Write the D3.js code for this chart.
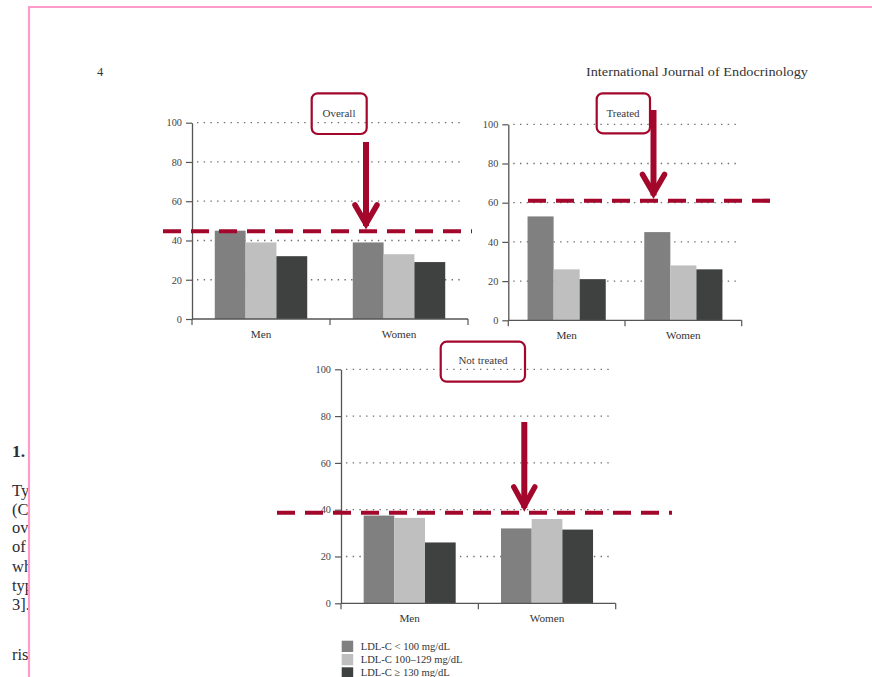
<!DOCTYPE html>
<html>
<head>
<meta charset="utf-8">
<script src="https://cdn.jsdelivr.net/npm/d3@7"></script>
<style>
  html, body { margin: 0; padding: 0; background: #fff; }
  svg { display: block; }
  text { font-family: "Liberation Serif", "DejaVu Serif", serif; }
</style>
</head>
<body>
<svg id="page" width="872" height="677"></svg>
<script>
// ---- data ----
const categories = ["Men", "Women"];
const seriesNames = ["LDL-C < 100 mg/dL", "LDL-C 100\u2013129 mg/dL", "LDL-C \u2265 130 mg/dL"];
const seriesColors = ["#808080", "#bfbfbf", "#3f4141"];
const yTicks = [0, 20, 40, 60, 80, 100];
const panelTitles = ["Overall", "Treated", "Not treated"];
// percent of patients per LDL-C class, rows = categories, columns = series
const overallValues = [[45, 39, 32], [39, 33, 29]];
const treatedValues = [[53, 26, 21], [45, 28, 26]];
const notTreatedValues = [[37.5, 36.5, 26], [32, 36, 31.5]];
// reference level highlighted by the dashed line in each panel
const targetLevels = [44.7, 61, 38.7];

// ---- layout ----
const RED = "#a3072b";
const panels = [
  { title: panelTitles[0], values: overallValues, target: targetLevels[0],
    x0: 192, x1: 468, y0: 319, y1: 122.7,
    dash: [163, 472], box: [311.7, 93.3, 55, 40.7], label: [339, 116.5],
    arrow: { x: 366, top: 142, tip: 230, hw: 13, hh: 25 } },
  { title: panelTitles[1], values: treatedValues, target: targetLevels[1],
    x0: 508.3, x1: 741.7, y0: 320.3, y1: 124.3,
    dash: [528, 773], box: [596.7, 93.3, 53.3, 40], label: [623, 116.5],
    arrow: { x: 653.5, top: 110, tip: 199.5, hw: 13, hh: 25 } },
  { title: panelTitles[2], values: notTreatedValues, target: targetLevels[2],
    x0: 341, x1: 615.7, y0: 603.3, y1: 369.3,
    dash: [277, 672], box: [440.7, 341.7, 84.3, 40], label: [483, 364],
    arrow: { x: 524.3, top: 422, tip: 512, hw: 12.5, hh: 25 } }
];

const svg = d3.select("#page");

// ---- page furniture ----
svg.append("text").attr("x", 97).attr("y", 76).attr("font-size", 12.5).attr("fill", "#333")
  .text("4");
svg.append("text").attr("x", 808).attr("y", 76).attr("font-size", 12.5).attr("fill", "#333")
  .attr("text-anchor", "end").attr("textLength", 222).attr("lengthAdjust", "spacingAndGlyphs")
  .text("International Journal of Endocrinology");

// body text running in from the left margin, cut by the frame
const defs = svg.append("defs");
defs.append("clipPath").attr("id", "leftClip")
  .append("rect").attr("x", 0).attr("y", 0).attr("width", 28.5).attr("height", 677);
const bodyText = svg.append("g").attr("clip-path", "url(#leftClip)").attr("fill", "#2c2c34");
bodyText.append("text").attr("x", 12).attr("y", 457).attr("font-size", 17.5)
  .attr("font-weight", "bold").text("1.");
const bodyLines = ["Type", "(CVD", "over", "of th", "whic", "type", "3]. T", "risk"];
const bodyBaselines = [496, 514.5, 533, 552, 571.5, 591, 610, 660];
bodyLines.forEach((t, i) => {
  bodyText.append("text").attr("x", 12).attr("y", bodyBaselines[i]).attr("font-size", 16.5).text(t);
});

// ---- panels ----
panels.forEach(p => {
  const g = svg.append("g");
  const y = d3.scaleLinear().domain([0, 100]).range([p.y0, p.y1]);
  const x = d3.scaleBand().domain(categories).range([p.x0, p.x1]).padding(0);
  const bw = x.bandwidth();
  const pad = bw * 0.165;
  const xs = d3.scaleBand().domain(d3.range(seriesNames.length)).range([pad, bw - pad]).padding(0);

  // dotted gridlines
  g.append("g").selectAll("line").data(yTicks.filter(d => d > 0)).join("line")
    .attr("x1", p.x0 + 5).attr("x2", p.x1 - 4)
    .attr("y1", d => y(d)).attr("y2", d => y(d))
    .attr("stroke", "#6e6e6e").attr("stroke-width", 1.3)
    .attr("stroke-dasharray", "1.4,5.3");

  // bars
  const groups = g.append("g").selectAll("g").data(categories).join("g")
    .attr("transform", c => `translate(${x(c)},0)`);
  groups.selectAll("rect").data((c, i) => p.values[i].map((v, s) => ({ v, s }))).join("rect")
    .attr("x", d => xs(d.s)).attr("width", xs.bandwidth())
    .attr("y", d => y(d.v)).attr("height", d => y(0) - y(d.v))
    .attr("fill", d => seriesColors[d.s]);

  // y axis
  const yAxis = g.append("g").attr("transform", `translate(${p.x0},0)`)
    .call(d3.axisLeft(y).tickValues(yTicks).tickSize(6).tickSizeOuter(0).tickPadding(4));
  yAxis.select(".domain").attr("stroke", "#555").attr("stroke-width", 1.3);
  yAxis.selectAll(".tick line").attr("stroke", "#555").attr("stroke-width", 1.2);
  yAxis.selectAll(".tick text").attr("font-family", "Liberation Serif, serif")
    .attr("font-size", 10.3).attr("fill", "#444");

  // x axis: baseline, ticks at band edges, labels at band centres
  const xAxis = g.append("g");
  xAxis.append("line").attr("x1", p.x0).attr("x2", p.x1).attr("y1", y(0)).attr("y2", y(0))
    .attr("stroke", "#555").attr("stroke-width", 1.3);
  const edges = categories.map(c => x(c)).concat([x(categories[categories.length - 1]) + bw]);
  xAxis.selectAll("line.edge").data(edges).join("line").attr("class", "edge")
    .attr("x1", d => d).attr("x2", d => d).attr("y1", y(0)).attr("y2", y(0) + 6)
    .attr("stroke", "#555").attr("stroke-width", 1.2);
  xAxis.selectAll("text").data(categories).join("text")
    .attr("x", c => x(c) + bw / 2).attr("y", y(0) + 19)
    .attr("text-anchor", "middle").attr("font-size", 11.2).attr("fill", "#333")
    .text(c => c);

  // dashed reference line
  g.append("line").attr("x1", p.dash[0]).attr("x2", p.dash[1])
    .attr("y1", y(p.target)).attr("y2", y(p.target))
    .attr("stroke", RED).attr("stroke-width", 4.2).attr("stroke-dasharray", "18,10");

  // pointer arrow
  const a = p.arrow;
  g.append("line").attr("x1", a.x).attr("x2", a.x).attr("y1", a.top).attr("y2", a.tip - 4)
    .attr("stroke", RED).attr("stroke-width", 6);
  g.append("path")
    .attr("d", `M${a.x - a.hw + 2},${a.tip - a.hh} L${a.x},${a.tip - 6} L${a.x + a.hw - 2},${a.tip - a.hh}`)
    .attr("fill", "none").attr("stroke", RED).attr("stroke-width", 5.5)
    .attr("stroke-linejoin", "miter").attr("stroke-linecap", "round");

  // title box
  g.append("rect").attr("x", p.box[0]).attr("y", p.box[1]).attr("width", p.box[2]).attr("height", p.box[3])
    .attr("rx", 6).attr("fill", "none").attr("stroke", RED).attr("stroke-width", 2.2);
  g.append("text").attr("x", p.label[0]).attr("y", p.label[1]).attr("text-anchor", "middle")
    .attr("font-size", 11).attr("fill", "#3a3a44").text(p.title);
});

// ---- legend ----
const legend = svg.append("g").selectAll("g").data(seriesNames).join("g")
  .attr("transform", (d, i) => `translate(341.7,${640.7 + i * 13.3})`);
legend.append("rect").attr("width", 11.5).attr("height", 11.3).attr("fill", (d, i) => seriesColors[i]);
legend.append("text").attr("x", 19).attr("y", 8.8).attr("font-size", 10.6).attr("fill", "#333")
  .text(d => d);

// ---- pink frame ----
svg.append("path").attr("d", "M29,677 L29,7 L872,7")
  .attr("fill", "none").attr("stroke", "#ff9ccc").attr("stroke-width", 2.2);
</script>
</body>
</html>
